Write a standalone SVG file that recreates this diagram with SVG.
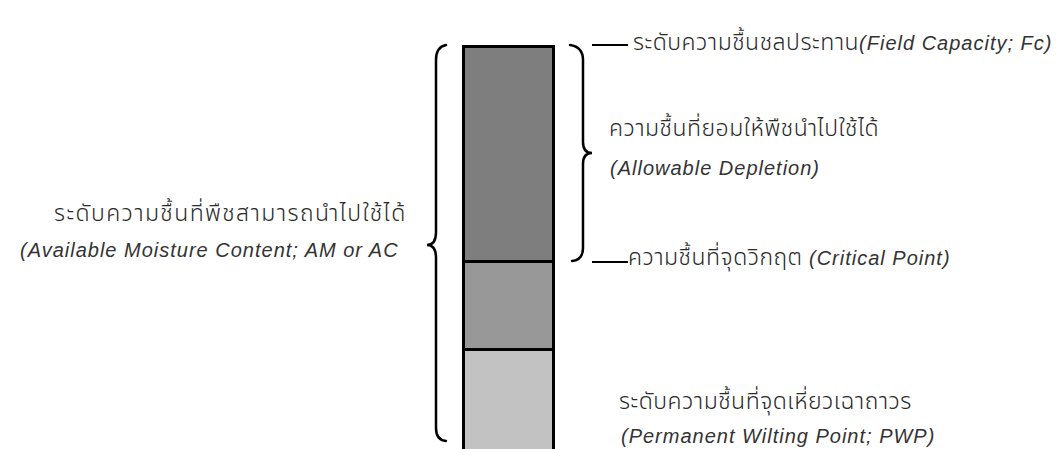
<svg xmlns="http://www.w3.org/2000/svg" width="1063" height="449" viewBox="0 0 1063 449">
<style>
.th{font-family:"Noto Sans Thai","Loma","Garuda","Tlwg Typo","Noto Sans","DejaVu Sans",sans-serif;font-size:23px;font-weight:300;letter-spacing:0.5px;fill:#2a2a2a}
.en{font-family:"Liberation Sans",Arial,sans-serif;font-style:italic;font-weight:normal;font-size:20px;letter-spacing:1px;fill:#333}
.wide{letter-spacing:1.4px}
.br{fill:none;stroke:#000;stroke-width:2.5;stroke-linecap:round}
.ln{stroke:#000;stroke-width:2}
.seg{stroke:#000;stroke-width:3}
</style>
<rect width="1063" height="449" fill="#fff"/>
<g id="column">
<rect x="463.5" y="46.5" width="90" height="215" fill="#7e7e7e" class="seg"/>
<rect x="463.5" y="261.5" width="90" height="88" fill="#989898" class="seg"/>
<rect x="463.5" y="349.5" width="90" height="110" fill="#c2c2c2" class="seg"/>
</g>
<g id="connectors">
<path class="br" d="M446,45 Q436,47 436,60 L436,232 Q436,245 427,245 Q436,245 436,258 L436,428 Q436,440 446,441"/>
<path class="br" d="M570,45 Q583,47 583,60 L583,142 Q583,153 592,153 Q583,153 583,164 L583,248 Q583,260 572,261"/>
<line class="ln" x1="592" y1="45" x2="628" y2="45"/>
<line class="ln" x1="592" y1="262" x2="628" y2="262"/>
</g>
<g id="field-capacity">
<text x="633" y="50"><tspan class="th">ระดับความชื้นชลประทาน</tspan><tspan class="en">(Field Capacity; Fc)</tspan></text>
</g>
<g id="allowable-depletion">
<text class="th" x="609" y="136">ความชื้นที่ยอมให้พืชนำไปใช้ได้</text>
<text class="en" x="610" y="175">(Allowable Depletion)</text>
</g>
<g id="critical-point">
<text x="628" y="265"><tspan class="th">ความชื้นที่จุดวิกฤต </tspan><tspan class="en">(Critical Point)</tspan></text>
</g>
<g id="available-moisture">
<text class="th wide" x="54" y="221">ระดับความชื้นที่พืชสามารถนำไปใช้ได้</text>
<text class="en" x="20" y="257">(Available Moisture Content; AM or AC</text>
</g>
<g id="wilting-point">
<text class="th" x="619" y="409">ระดับความชื้นที่จุดเหี่ยวเฉาถาวร</text>
<text class="en" x="621" y="443">(Permanent Wilting Point; PWP)</text>
</g>
</svg>
